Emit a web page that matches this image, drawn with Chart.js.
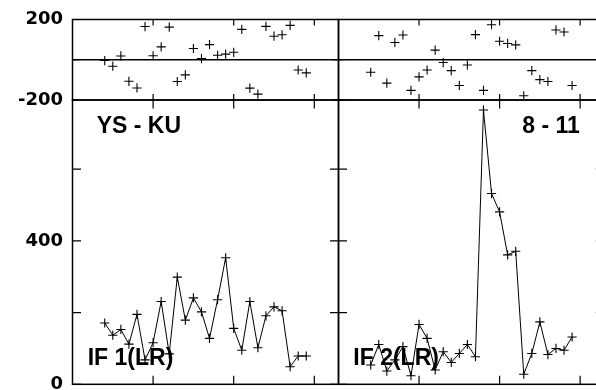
<!DOCTYPE html>
<html><head><meta charset="utf-8">
<script src="https://cdn.jsdelivr.net/npm/chart.js@4/dist/chart.umd.min.js"></script>
<style>
html,body{margin:0;padding:0;background:#fff;overflow:hidden;width:596px;height:390px;}
#wrap{position:relative;width:596px;height:390px;overflow:hidden;background:#fff;}
</style></head><body><div id="wrap"></div>
<script>
const scanNumbers = [4,5,6,7,8,9,10,11,12,13,14,15,16,17,18,19,20,21,22,23,24,25,26,27,28,29];
const residIF1 = [-4,-32,19,-107,-140,165,20,64,162,-108,-75,56,6,75,22,28,37,151,-141,-171,166,117,124,171,-51,-65];
const residIF2 = [-62,120,-116,86,123,-152,-85,-51,48,-14,-54,-128,-26,125,-152,174,92,81,74,-179,-54,-99,-108,148,138,-128];
const fluxIF1 = [171,137,153,112,195,68,116,231,85,299,179,241,202,128,236,353,156,95,231,102,191,216,205,49,79,79];
const fluxIF2 = [54,111,37,68,105,24,167,128,40,91,61,86,111,77,765,532,481,361,371,28,86,174,83,100,95,132];
const xTickValues = [10,20,30];
const residTickValues = [-200,0,200];
const residTickLabels = [-200,200];
const fluxTickValues = [0,200,400,600];
const fluxTickLabels = [0,400];
const baselineLabel = 'YS - KU';
const scanLabel = '8 - 11';
const if1Label = 'IF 1(LR)';
const if2Label = 'IF 2(LR)';

const wrap = document.getElementById('wrap');
const tickFont = {family:'DejaVu Sans', size:18, weight:'bold'};
const annFont = 'bold 23px "Liberation Sans", Arial, sans-serif';

const framePlugin = {
  id:'frame',
  beforeDatasetsDraw(chart, args, o){
    const {ctx, chartArea:a, scales} = chart;
    const xs = scales.x, ys = scales.y;
    ctx.save();
    ctx.strokeStyle = '#000';
    ctx.lineWidth = 1.5;
    ctx.strokeRect(a.left, a.top, a.right-a.left, a.bottom-a.top);
    ctx.lineWidth = 1.2;
    ctx.beginPath();
    const L = o.tick;
    for (const v of xTickValues){
      const px = xs.getPixelForValue(v);
      ctx.moveTo(px,a.top); ctx.lineTo(px,a.top+L);
      ctx.moveTo(px,a.bottom); ctx.lineTo(px,a.bottom-L);
    }
    for (const v of o.yTicks){
      const py = ys.getPixelForValue(v);
      ctx.moveTo(a.left,py); ctx.lineTo(a.left+L,py);
      ctx.moveTo(a.right,py); ctx.lineTo(a.right-L,py);
    }
    ctx.stroke();
    if (o.zero){
      const py = ys.getPixelForValue(0);
      ctx.lineWidth = 1.3;
      ctx.beginPath(); ctx.moveTo(a.left,py); ctx.lineTo(a.right,py); ctx.stroke();
    }
    ctx.restore();
  }
};
const textPlugin = {
  id:'texts',
  afterDatasetsDraw(chart, args, o){
    const {ctx, chartArea:a} = chart;
    ctx.save();
    ctx.fillStyle = '#000';
    ctx.font = annFont;
    ctx.textBaseline = 'alphabetic';
    for (const it of (o.items||[])){
      if (it.align === 'right'){ ctx.textAlign='right'; ctx.fillText(it.text, a.right - it.dx, a.top + it.dy); }
      else if (it.fromBottom){ ctx.textAlign='left'; ctx.fillText(it.text, a.left + it.dx, a.bottom - it.dy); }
      else { ctx.textAlign='left'; ctx.fillText(it.text, a.left + it.dx, a.top + it.dy); }
    }
    ctx.restore();
  }
};

function makeChart(box, area, cfg){
  const cv = document.createElement('canvas');
  cv.width = box.w; cv.height = box.h;
  cv.style.cssText = `position:absolute;left:${box.x}px;top:${box.y}px;width:${box.w}px;height:${box.h}px`;
  wrap.appendChild(cv);
  const showY = cfg.showYLabels;
  const axisW = showY ? (area.left - box.x) : 0;
  const padding = {
    left: showY ? 0 : (area.left - box.x),
    right: box.w - (area.right - box.x),
    top: area.top - box.y,
    bottom: box.h - (area.bottom - box.y)
  };
  const ds = {
    data: scanNumbers.map((x,i)=>({x:x, y:cfg.values[i]})),
    showLine: cfg.line,
    borderColor:'#000', borderWidth:1,
    pointStyle:'cross', pointRadius:4.6, pointBorderWidth:1.1,
    pointBorderColor:'#000', pointBackgroundColor:'rgba(0,0,0,0)',
    tension:0, clip:false
  };
  return new Chart(cv, {
    type:'line',
    data:{datasets:[ds]},
    options:{
      responsive:false, animation:false, devicePixelRatio:1,
      layout:{padding},
      plugins:{legend:{display:false}, tooltip:{enabled:false},
        frame:{tick:cfg.tick, yTicks:cfg.yTicks, zero:cfg.zero},
        texts:{items:cfg.texts||[]}},
      scales:{
        x:{type:'linear', min:0, max:33, display:false},
        y:{type:'linear', min:cfg.min, max:cfg.max, display:showY, position:'left',
           afterBuildTicks:(s)=>{ s.ticks = cfg.yLabels.map(v=>({value:v})); },
           ticks:{font:tickFont, color:'#000', padding:9.5, autoSkip:false,
                  callback:(v)=>String(v)},
           grid:{display:false, drawTicks:false},
           border:{display:false},
           afterFit:(s)=>{ s.width = axisW; s.paddingTop = 0; s.paddingBottom = 0; }
        }
      }
    },
    plugins:[framePlugin, textPlugin]
  });
}

const upper = {top:19.5, bottom:100};
const lower = {top:100, bottom:386};
const leftX = {left:72.5, right:338.5};
const rightX = {left:338.5, right:604.5};

makeChart({x:0,y:0,w:345,h:112}, {...leftX, ...upper},
  {values:residIF1, line:false, min:-200, max:200, showYLabels:true, yLabels:residTickLabels, yTicks:residTickValues, tick:6, zero:true});
makeChart({x:330,y:0,w:280,h:112}, {...rightX, ...upper},
  {values:residIF2, line:false, min:-200, max:200, showYLabels:false, yLabels:residTickLabels, yTicks:residTickValues, tick:6, zero:true});
makeChart({x:0,y:90,w:345,h:300}, {...leftX, ...lower},
  {values:fluxIF1, line:true, min:0, max:793, showYLabels:true, yLabels:fluxTickLabels, yTicks:fluxTickValues, tick:8.5, zero:false,
   texts:[{text:baselineLabel, dx:24.2, dy:33.3}, {text:if1Label, dx:15.2, dy:19.5, fromBottom:true}]});
makeChart({x:330,y:90,w:280,h:300}, {...rightX, ...lower},
  {values:fluxIF2, line:true, min:0, max:793, showYLabels:false, yLabels:fluxTickLabels, yTicks:fluxTickValues, tick:8.5, zero:false,
   texts:[{text:scanLabel, dx:24.5, dy:33.3, align:'right'}, {text:if2Label, dx:14.8, dy:19.5, fromBottom:true}]});
</script></body></html>
